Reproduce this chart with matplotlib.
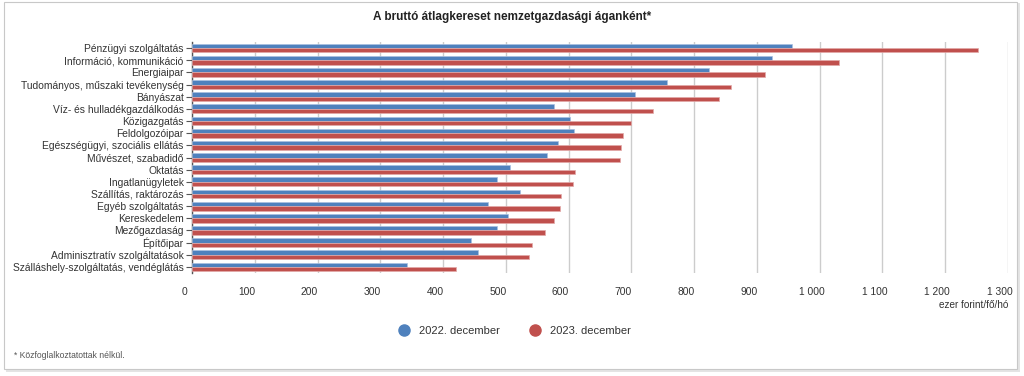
import matplotlib.pyplot as plt
import matplotlib.patches as mpatches
import matplotlib.transforms as mtransforms
import numpy as np

plt.rcParams['font.family'] = ['Liberation Sans', 'DejaVu Sans']

categories = ['Pénzügyi szolgáltatás', 'Információ, kommunikáció', 'Energiaipar',
              'Tudományos, műszaki tevékenység', 'Bányászat', 'Víz- és hulladékgazdálkodás',
              'Közigazgatás', 'Feldolgozóipar', 'Egészségügyi, szociális ellátás',
              'Művészet, szabadidő', 'Oktatás', 'Ingatlanügyletek', 'Szállítás, raktározás',
              'Egyéb szolgáltatás', 'Kereskedelem', 'Mezőgazdaság', 'Építőipar',
              'Adminisztratív szolgáltatások', 'Szálláshely-szolgáltatás, vendéglátás']
dec_2022 = [956, 924, 823, 757, 706, 577, 603, 608, 583, 565, 506, 486, 522, 471, 504, 486, 445, 455, 343]
dec_2023 = [1252, 1031, 913, 858, 839, 734, 699, 686, 683, 682, 610, 607, 588, 586, 577, 562, 542, 537, 420]
xticks = np.arange(0, 1301, 100)
xtick_labels = ['0', '100', '200', '300', '400', '500', '600', '700', '800', '900',
                '1 000', '1 100', '1 200', '1 300']

blue = '#4F81BD'
red = '#C0504D'

fig = plt.figure(figsize=(10.24, 3.76), dpi=100)

# card frame
fig.patches.append(mpatches.Rectangle((6/1024, 1 - 372/376), 1014/1024, 369/376,
                                      transform=fig.transFigure, fc='#e4e4e4', ec='none', zorder=-10))
fig.patches.append(mpatches.Rectangle((4/1024, 1 - 369/376), 1013/1024, 367/376,
                                      transform=fig.transFigure, fc='white', ec='#c8c8c8', lw=0.8, zorder=-9))

ax = fig.add_axes([192/1024, 1 - 273/376, 816/1024, 231/376])
ax.set_zorder(1)
ax.patch.set_alpha(0)

y = np.arange(len(categories))
h = 0.36
ax.barh(y - h/2, dec_2022, height=h, color=blue, edgecolor='#a9c0e0', linewidth=0.5, zorder=3,
        label='2022. december')
ax.barh(y + h/2, dec_2023, height=h, color=red, edgecolor='#e2a9a8', linewidth=0.5, zorder=3,
        label='2023. december')

ax.set_xlim(0, 1300)
ax.set_ylim(len(categories) - 0.5, -0.5)
ax.set_yticks(y)
ax.set_yticklabels(categories, fontsize=7.4, color='#333333')
ax.set_xticks(xticks)
ax.set_xticklabels(xtick_labels, fontsize=7.4, color='#333333')
ax.tick_params(axis='x', length=0, pad=10)
ax.tick_params(axis='y', length=4, width=0.8, color='#555555', pad=2)
ax.grid(axis='x', color='#cccccc', linewidth=1, zorder=0)
for s in ['top', 'right', 'bottom']:
    ax.spines[s].set_visible(False)
ax.spines['left'].set_color('#555555')
ax.spines['left'].set_linewidth(1)

# x labels sit a little left of their gridlines
shift = mtransforms.ScaledTranslation(-8/100, 0, fig.dpi_scale_trans)
for lab in ax.get_xticklabels():
    lab.set_transform(lab.get_transform() + shift)

fig.text(1008/1024, 1 - 305/376, 'ezer forint/fő/hó', ha='right', va='center', fontsize=7.2, color='#333333')
fig.text(512/1024, 1 - 17/376, 'A bruttó átlagkereset nemzetgazdasági áganként*', ha='center', va='center',
         fontsize=8.5, fontweight='bold', color='#222222')

fig.legend(handles=[plt.Line2D([], [], marker='o', ls='', color=blue, markersize=8, label='2022. december'),
                    plt.Line2D([], [], marker='o', ls='', color=red, markersize=8, label='2023. december')],
           loc='center', bbox_to_anchor=(512/1024, 1 - 331/376), ncol=2, frameon=False,
           fontsize=8, handletextpad=0.3, columnspacing=2.2, labelcolor='#333333')

fig.text(14/1024, 1 - 356/376, '* Közfoglalkoztatottak nélkül.', ha='left', va='center', fontsize=6.2,
         color='#555555')

plt.savefig('out.png', dpi=100)
